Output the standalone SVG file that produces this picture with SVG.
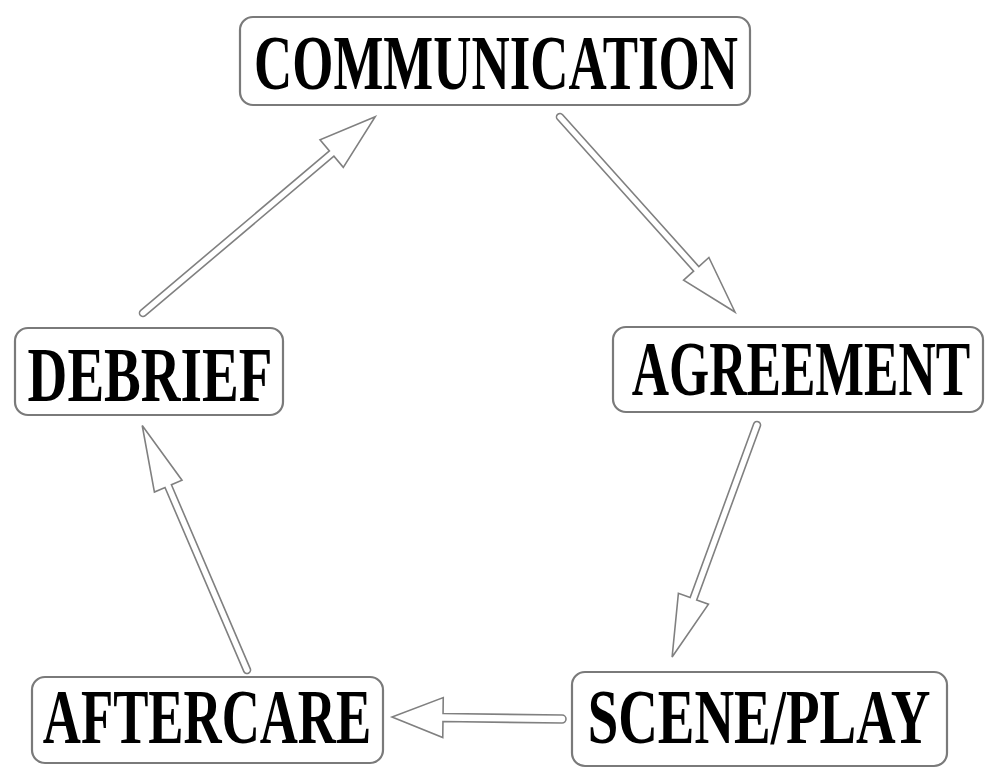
<svg xmlns="http://www.w3.org/2000/svg" width="989" height="769" viewBox="0 0 989 769">
<style>
.box{fill:#fff;stroke:#7a7a7a;stroke-width:2.2}
.lbl{font-family:"Liberation Serif","DejaVu Serif",serif;font-weight:bold;fill:#000;font-size:72px;text-anchor:middle}
.arr{fill:#fff;stroke:#808080;stroke-width:1.6;stroke-linejoin:miter}
</style>
<rect width="989" height="769" fill="#fff"/>
<g id="connectors">
<path class="arr" transform="translate(560,117) rotate(48.1)" d="M0,-3.5 L204,-3.5 L204,-17 L262,0 L204,17 L204,3.5 L0,3.5 A3.5,3.5 0 0 1 0,-3.5 Z"/>
<path class="arr" transform="translate(757,425) rotate(110.1)" d="M0,-3.5 L185,-3.5 L185,-16 L247,0 L185,16 L185,3.5 L0,3.5 A3.5,3.5 0 0 1 0,-3.5 Z"/>
<path class="arr" transform="translate(562,719) rotate(180.7)" d="M0,-4 L119,-4 L119,-20 L170,0 L119,20 L119,4 L0,4 A4,4 0 0 1 0,-4 Z"/>
<path class="arr" transform="translate(247,670) rotate(-113.2)" d="M0,-3.5 L200,-3.5 L200,-15 L266,0 L200,15 L200,3.5 L0,3.5 A3.5,3.5 0 0 1 0,-3.5 Z"/>
<path class="arr" transform="translate(143,313) rotate(-40.2)" d="M0,-3.5 L247,-3.5 L247,-18 L304,0 L247,18 L247,3.5 L0,3.5 A3.5,3.5 0 0 1 0,-3.5 Z"/>
</g>
<g id="communication">
<rect class="box" x="240" y="17" width="510" height="88" rx="13"/>
<text class="lbl" transform="translate(496,89) scale(0.72,1.08)" textLength="672" lengthAdjust="spacingAndGlyphs">COMMUNICATION</text>
</g>
<g id="agreement">
<rect class="box" x="613" y="327" width="370" height="85" rx="13"/>
<text class="lbl" transform="translate(801,395) scale(0.72,1.08)" textLength="470" lengthAdjust="spacingAndGlyphs">AGREEMENT</text>
</g>
<g id="scene-play">
<rect class="box" x="572" y="672" width="375" height="94" rx="13"/>
<text class="lbl" transform="translate(759,743) scale(0.72,1.08)" textLength="476" lengthAdjust="spacingAndGlyphs">SCENE/PLAY</text>
</g>
<g id="aftercare">
<rect class="box" x="32" y="677" width="351" height="86" rx="13"/>
<text class="lbl" transform="translate(207,743) scale(0.72,1.08)" textLength="456" lengthAdjust="spacingAndGlyphs">AFTERCARE</text>
</g>
<g id="debrief">
<rect class="box" x="15" y="328" width="268" height="87" rx="13"/>
<text class="lbl" transform="translate(150,401) scale(0.72,1.08)" textLength="340" lengthAdjust="spacingAndGlyphs">DEBRIEF</text>
</g>
</svg>
